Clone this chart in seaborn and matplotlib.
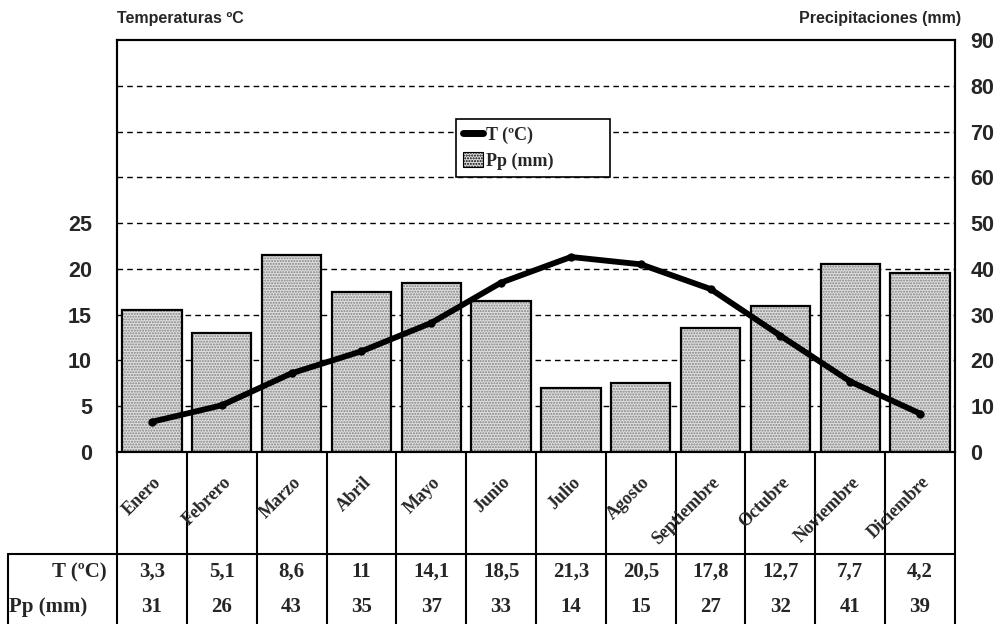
import numpy as np
import matplotlib
matplotlib.use("Agg")
import matplotlib.pyplot as plt
import seaborn as sns
from matplotlib.lines import Line2D
from matplotlib.patches import Patch

months = ["Enero", "Febrero", "Marzo", "Abril", "Mayo", "Junio", "Julio",
          "Agosto", "Septiembre", "Octubre", "Noviembre", "Diciembre"]
temps = [3.3, 5.1, 8.6, 11, 14.1, 18.5, 21.3, 20.5, 17.8, 12.7, 7.7, 4.2]
precip = [31, 26, 43, 35, 37, 33, 14, 15, 27, 32, 41, 39]
temp_labels = ["3,3", "5,1", "8,6", "11", "14,1", "18,5", "21,3", "20,5", "17,8", "12,7", "7,7", "4,2"]
precip_labels = [str(v) for v in precip]
left_ticks = [0, 5, 10, 15, 20, 25]
right_ticks = [0, 10, 20, 30, 40, 50, 60, 70, 80, 90]

sns.set_theme(style="white")
plt.rcParams["font.family"] = ["Liberation Sans", "DejaVu Sans"]

W, H = 1002, 624
fig = plt.figure(figsize=(W / 100, H / 100), dpi=100)
X0, X1, Y0, Y1 = 117, 955, 40, 452   # plot area in pixels
ax = fig.add_axes([X0 / W, 1 - Y1 / H, (X1 - X0) / W, (Y1 - Y0) / H])
ax2 = ax.twinx()

x = np.arange(len(months))

# precipitation bars (right axis)
for yv in right_ticks[1:-1]:
    ax2.axhline(yv, color="black", lw=1.0, ls=(0, (4, 3)), zorder=0)
sns.barplot(x=months, y=precip, ax=ax2, color="#e0e0e0", saturation=1,
            width=0.85, linewidth=0, edgecolor="#808080", hatch="......", zorder=2)
sns.barplot(x=months, y=precip, ax=ax2, color="black", fill=False,
            width=0.85, linewidth=1.6, zorder=3)
ax2.set_ylim(0, 90)
ax2.set_xlim(-0.5, 11.5)
ax2.set_yticks(right_ticks)
ax2.set_ylabel("")
ax2.tick_params(axis="y", length=0, pad=11, labelsize=15.5)
for t in ax2.get_yticklabels():
    t.set_fontweight("bold")

# temperature line (left axis)
ax.set_zorder(ax2.get_zorder() + 1)
ax.patch.set_visible(False)
sns.lineplot(x=x, y=temps, ax=ax, color="black", linewidth=4.2,
             marker="o", markersize=6, markeredgewidth=0, zorder=5)
ax.set_ylim(0, 45)
ax.set_xlim(-0.5, 11.5)
ax.set_yticks(left_ticks)
ax.tick_params(axis="y", length=0, pad=18, labelsize=15.5)
for t in ax.get_yticklabels():
    t.set_fontweight("bold")
ax.set_xticks([])
ax2.set_xticks([])
ax.set_xlabel("")
ax2.set_xlabel("")
for a in (ax, ax2):
    for s in a.spines.values():
        s.set_color("black")
        s.set_linewidth(1.5)

# titles
fig.text(X0 / W, 1 - 18 / H, "Temperaturas ºC", ha="left", va="center",
         fontsize=11.5, fontweight="bold")
fig.text(961 / W, 1 - 18 / H, "Precipitaciones (mm)", ha="right", va="center",
         fontsize=11.5, fontweight="bold")

# legend
serif = ["Liberation Serif", "DejaVu Serif"]
handles = [Line2D([0], [0], color="black", lw=5),
           Patch(facecolor="#e0e0e0", edgecolor="black", hatch="......", lw=0.8)]
leg = ax.legend(handles, ["T (ºC)", "Pp (mm)"], loc="upper left", mode="expand",
                bbox_to_anchor=(456 / W, 1 - 181 / H, 154 / W, 62 / H),
                bbox_transform=fig.transFigure,
                frameon=True, fancybox=False, edgecolor="black", framealpha=1,
                prop={"family": serif, "weight": "bold", "size": 13},
                handlelength=1.1, handleheight=0.9, handletextpad=0.15,
                borderpad=0.4, labelspacing=0.45, borderaxespad=0)
leg.get_frame().set_linewidth(1.2)

# category + table area
tab = fig.add_axes([X0 / W, 0, (X1 - X0) / W, 1 - Y1 / H])
tab.set_xlim(-0.5, 11.5)
tab.set_ylim(H, Y1)
tab.axis("off")
slot = (X1 - X0) / 12.0
def px2x(px):
    return (px - X0) / slot - 0.5

lk = dict(color="black", lw=1.5, clip_on=False)
for b in np.arange(-0.5, 12.0, 1.0):
    tab.plot([b, b], [Y1, H], **lk)
tab.plot([px2x(8), 11.5], [554, 554], **lk)
tab.plot([px2x(8), px2x(8)], [554, H], **lk)

for i, m in enumerate(months):
    tab.text(i + 10 / slot, 483, m, rotation=45, rotation_mode="anchor",
             ha="right", va="baseline", family=serif, fontweight="bold", fontsize=13)
    tab.text(i, 572, temp_labels[i], ha="center", va="center", family=serif,
             fontweight="bold", fontsize=15)
    tab.text(i, 607, precip_labels[i], ha="center", va="center", family=serif,
             fontweight="bold", fontsize=15)
tab.text(px2x(107), 572, "T (ºC)", ha="right", va="center", family=serif,
         fontweight="bold", fontsize=15)
tab.text(px2x(9), 607, "Pp (mm)", ha="left", va="center", family=serif,
         fontweight="bold", fontsize=15)

fig.savefig("out.png", dpi=100)
